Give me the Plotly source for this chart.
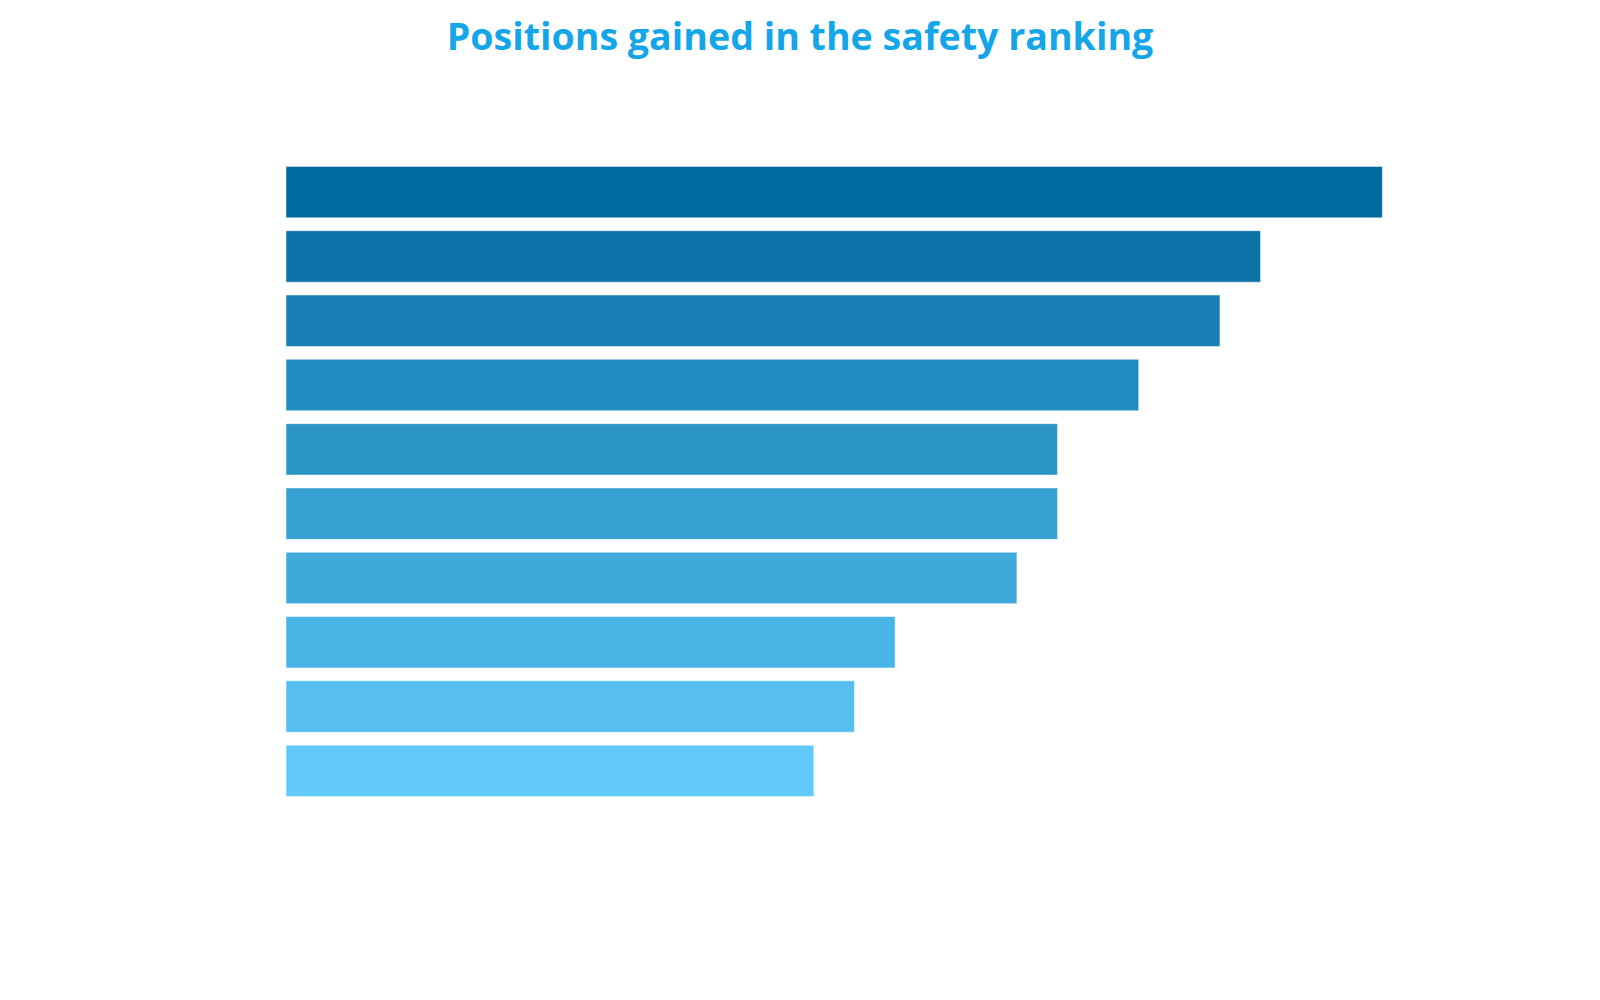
import plotly.graph_objects as go

# categories are not labelled in the picture, so placeholders are used (ticks hidden)
categories = ["A", "B", "C", "D", "E", "F", "G", "H", "I", "J"]
positions_gained = [27, 24, 23, 21, 19, 19, 18, 15, 14, 13]
bar_colors = ["#0069A0", "#0C72A8", "#177FB3", "#218BC0", "#2B95C8",
              "#36A0D3", "#40A9DC", "#4BB4E6", "#56BFEF", "#62CAFA"]

fig = go.Figure()
fig.add_trace(go.Bar(
    x=positions_gained,
    y=categories,
    orientation="h",
    marker=dict(color=bar_colors, line=dict(color="rgba(255,255,255,0.5)", width=1)),
    showlegend=False,
))

fig.update_layout(
    width=1600, height=1000,
    title=dict(text="<b>Positions gained in the safety ranking</b>",
               x=0.495, xanchor="center", y=0.971, yanchor="middle",
               font=dict(family="Open Sans", size=37.6, color="#14A6E9")),
    margin=dict(l=278, r=185, t=152, b=205),
    bargap=0.2,
    plot_bgcolor="white", paper_bgcolor="white",
    xaxis=dict(range=[0, 28], visible=False, showgrid=False, zeroline=False),
    yaxis=dict(autorange="reversed", showticklabels=False, showgrid=False,
               zeroline=False, ticks=""),
)

fig.write_html("out.html")
